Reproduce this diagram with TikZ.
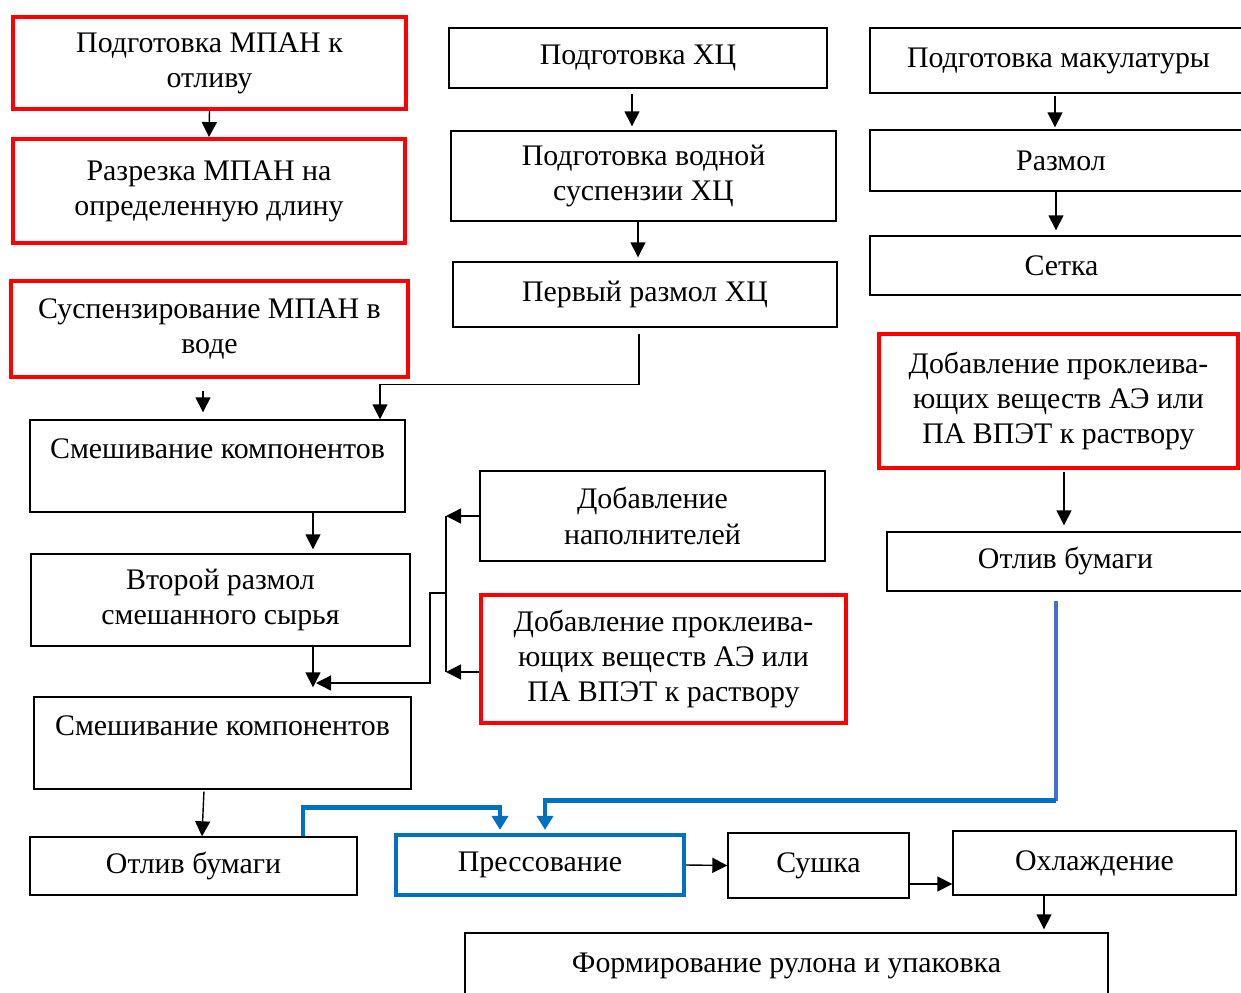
\documentclass[tikz,border=0pt]{standalone}
\usepackage{fontspec}
\setmainfont{Liberation Serif}
\usepackage{xcolor}
\usepackage{tikz}
\usetikzlibrary{arrows.meta, positioning}
\definecolor{procblue}{HTML}{0070C0}
\definecolor{paleblue}{HTML}{4472C4}

\begin{document}
\begin{tikzpicture}[
  x=0.02cm, y=-0.02cm,
  font=\fontsize{17}{20}\selectfont,
  box/.style={draw, line width=0.8pt, align=center, inner sep=2pt},
  redbox/.style={box, draw=red, line width=2.2pt},
  bluebox/.style={box, draw=procblue, line width=2.4pt},
  topline/.style={text depth=#1},
  arrow/.style={line width=0.8pt, -{Triangle[length=0.3cm, width=0.3cm]}},
  blueline/.style={draw=paleblue, line width=2.6pt},
  bluearrow/.style={draw=procblue, line width=2.6pt, -{Triangle[length=0.28cm, width=0.32cm]}}
]
\useasboundingbox (0,0) rectangle (1241,993);
\clip (0,0) rectangle (1241,993);

% Nodes
\node[redbox, minimum width=7.86cm, minimum height=1.84cm] (b1) at (209.5,63) {Подготовка МПАН к\\отливу};
\node[redbox, minimum width=7.84cm, minimum height=2.08cm] (b2) at (209,191) {Разрезка МПАН на\\определенную длину};
\node[redbox, minimum width=7.94cm, minimum height=1.92cm] (b3) at (209.5,329) {Суспензирование МПАН в\\воде};
\node[box, minimum width=7.5cm, minimum height=1.84cm, topline=0.7cm] (b4) at (217.5,466) {Смешивание компонентов};
\node[box, minimum width=7.58cm, minimum height=1.84cm] (b5) at (220.5,600) {Второй размол\\смешанного сырья};
\node[box, minimum width=7.54cm, minimum height=1.84cm, topline=0.7cm] (b6) at (222.5,743) {Смешивание компонентов};
\node[box, minimum width=6.54cm, minimum height=1.16cm] (b7) at (193.5,866) {Отлив бумаги};

\node[box, minimum width=7.56cm, minimum height=1.2cm] (m1) at (638,58) {Подготовка ХЦ};
\node[box, minimum width=7.7cm, minimum height=1.8cm] (m2) at (643.5,176) {Подготовка водной\\суспензии ХЦ};
\node[box, minimum width=7.68cm, minimum height=1.3cm] (m3) at (645,294.5) {Первый размол ХЦ};
\node[box, minimum width=6.9cm, minimum height=1.8cm] (m4) at (652.5,516) {Добавление\\наполнителей};
\node[redbox, minimum width=7.3cm, minimum height=2.56cm] (m5) at (663.5,659) {Добавление проклеива-\\ющих веществ АЭ или\\ПА ВПЭТ к раствору};

\node[box, minimum width=7.54cm, minimum height=1.3cm] (r1) at (1058.5,60.5) {Подготовка макулатуры};
\node[box, minimum width=7.64cm, minimum height=1.22cm] (r2) at (1061,160.5) {Размол};
\node[box, minimum width=7.66cm, minimum height=1.18cm] (r3) at (1061.5,265.5) {Сетка};
\node[redbox, minimum width=7.18cm, minimum height=2.68cm] (r4) at (1058.5,401) {Добавление проклеива-\\ющих веществ АЭ или\\ПА ВПЭТ к раствору};
\node[box, minimum width=7.14cm, minimum height=1.18cm] (r5) at (1065.5,561.5) {Отлив бумаги};

\node[bluebox, minimum width=5.76cm, minimum height=1.2cm] (p) at (540,865) {Прессование};
\node[box, minimum width=3.62cm, minimum height=1.3cm] (s) at (818.5,865.5) {Сушка};
\node[box, minimum width=5.66cm, minimum height=1.28cm] (o) at (1094.5,863) {Охлаждение};
\node[box, minimum width=12.86cm, minimum height=1.6cm, topline=0.41cm] (f) at (786.5,973) {Формирование рулона и упаковка};

\coordinate (join) at (446,593);
\coordinate (tip) at (316,683);

% Pointers
\draw[arrow] (b1.south) -- (b2.north);
\draw[arrow, shorten <=0.1cm, shorten >=0.08cm] ([xshift=-0.12cm]m1.south) -- ([xshift=-0.12cm]m1.south |- m2.north);
\draw[arrow, shorten >=0.08cm] ([xshift=-0.11cm]m2.south) -- ([xshift=-0.11cm]m2.south |- m3.north);
\draw[arrow, shorten <=0.04cm, shorten >=0.04cm] ([xshift=-0.07cm]r1.south) -- ([xshift=-0.07cm]r1.south |- r2.north);
\draw[arrow, shorten >=0.1cm] ([xshift=-0.1cm]r2.south) -- ([xshift=-0.1cm]r2.south |- r3.north);
\draw[arrow, shorten <=0.24cm, shorten >=0.14cm] ([xshift=-0.13cm]b3.south) -- ([xshift=-0.13cm]b3.south |- b4.north);
\draw[arrow, shorten <=0.12cm] ([xshift=-0.12cm]m3.south) -- ++(0,57) -| ([xshift=3.25cm]b4.north);
\draw[arrow, shorten >=0.08cm] ([xshift=1.91cm]b4.south) -- ([xshift=1.91cm]b4.south |- b5.north);
\draw[arrow, shorten >=0.18cm] ([xshift=1.85cm]b5.south) -- ([xshift=1.85cm]b5.south |- b6.north);
\draw[arrow] (m4.west) -- (m4.west -| join);
\draw[arrow] ([yshift=-0.26cm]m5.west) -- ([yshift=-0.26cm]m5.west -| join);
\draw[line width=0.8pt] (m4.west -| join) -- ([yshift=-0.26cm]m5.west -| join);
\draw[arrow] (join) -- ++(-16,0) |- (tip);
\draw[arrow, shorten <=0.04cm] ([xshift=-0.37cm]b6.south) -- ([xshift=0.17cm]b7.north);
\draw[arrow, shorten <=0.04cm, shorten >=0.12cm] ([xshift=0.11cm]r4.south) -- ([xshift=0.11cm]r4.south |- r5.north);

\draw[bluearrow, shorten >=0.06cm] ([xshift=2.19cm]b7.north) -- ++(0,-29) -| ([xshift=-0.8cm]p.north);
\draw[blueline] ([xshift=-0.19cm, yshift=-0.18cm]r5.south) -- ++(0,200) coordinate (bend);
\draw[bluearrow, shorten >=0.06cm] (bend) -| ([xshift=0.1cm]p.north);

\draw[arrow] (p.east) -- (s.west);
\draw[arrow] ([yshift=-0.37cm]s.east) -- ([yshift=-0.37cm]s.east -| o.west);
\draw[arrow, shorten >=0.06cm] ([xshift=-1.01cm]o.south) -- ([xshift=-1.01cm]o.south |- f.north);

\end{tikzpicture}
\end{document}
